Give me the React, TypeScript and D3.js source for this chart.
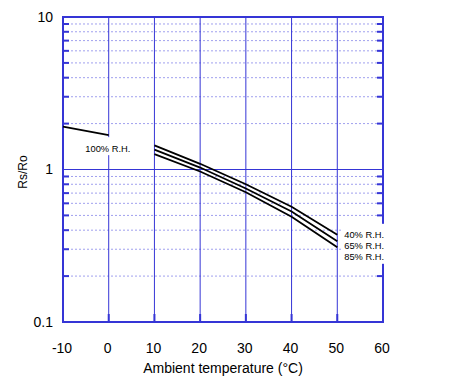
import * as d3 from "d3";
import * as React from "react";

// values
const xTicks = [-10, 0, 10, 20, 30, 40, 50, 60];
const yMajor = [0.1, 1, 10];
const yMajorLabels = ["0.1", "1", "10"];
const yMinor = [0.2, 0.3, 0.4, 0.5, 0.6, 0.7, 0.8, 0.9, 2, 3, 4, 5, 6, 7, 8, 9];

const temps100 = [-10, 0];
const rh100 = [1.91, 1.68];

const temps = [10, 20, 30, 40, 50];
const rh40 = [1.44, 1.09, 0.8, 0.57, 0.373];
const rh65 = [1.35, 1.03, 0.75, 0.53, 0.339];
const rh85 = [1.26, 0.97, 0.71, 0.49, 0.309];

const seriesLabels = ["40% R.H.", "65% R.H.", "85% R.H."];

const width = 456;
const height = 387;
const margin = { top: 17, right: 73, bottom: 65, left: 63 };
const blue = "#3535d6";
const font = "Arial, 'Liberation Sans', sans-serif";

export default function App() {
  const x = d3
    .scaleLinear()
    .domain([-10, 60])
    .range([margin.left, width - margin.right]);
  const y = d3
    .scaleLog()
    .domain([0.1, 10])
    .range([height - margin.bottom, margin.top]);

  const line = d3
    .line<[number, number]>()
    .x(d => x(d[0]))
    .y(d => y(d[1]));

  const curves = [
    temps100.map((t, i) => [t, rh100[i]] as [number, number]),
    temps.map((t, i) => [t, rh40[i]] as [number, number]),
    temps.map((t, i) => [t, rh65[i]] as [number, number]),
    temps.map((t, i) => [t, rh85[i]] as [number, number]),
  ];

  const x0 = x(-10), x1 = x(60), yTop = y(10), yBot = y(0.1);
  const lab100 = { x: x(-5) - 0.5, y: y(rh100[1]) + 17 };
  const labR = { x: x(50) + 7, y: y(rh40[4]) + 3 };

  return (
    <svg
      width={width}
      height={height}
      style={{ position: "absolute", left: 0, top: 0, background: "#fff" }}
      fontFamily={font}
    >
      {/* dotted minor grid */}
      {yMinor.map(v => (
        <line key={"g" + v} x1={x0} x2={x1} y1={y(v)} y2={y(v)}
          stroke="#a0a0ee" strokeWidth={1} strokeDasharray="2,2" />
      ))}
      {/* vertical grid */}
      {xTicks.map(t => (
        <line key={"v" + t} x1={x(t)} x2={x(t)} y1={yTop} y2={yBot}
          stroke={blue} strokeWidth={1} />
      ))}
      {/* horizontal major grid */}
      {yMajor.map(v => (
        <line key={"h" + v} x1={x0} x2={x1} y1={y(v)} y2={y(v)}
          stroke={blue} strokeWidth={1} />
      ))}
      {/* minor ticks left and right */}
      {yMinor.map(v => (
        <g key={"t" + v}>
          <line x1={x0} x2={x0 + 6} y1={y(v)} y2={y(v)} stroke={blue} strokeWidth={2} />
          <line x1={x1 - 6} x2={x1} y1={y(v)} y2={y(v)} stroke={blue} strokeWidth={2} />
        </g>
      ))}
      {/* major x ticks at bottom */}
      {xTicks.map(t => (
        <line key={"xt" + t} x1={x(t)} x2={x(t)} y1={yBot} y2={yBot - 8}
          stroke={blue} strokeWidth={2} />
      ))}
      {/* frame */}
      <rect x={x0} y={yTop} width={x1 - x0} height={yBot - yTop}
        fill="none" stroke={blue} strokeWidth={2} />

      {/* curves */}
      {curves.map((c, i) => (
        <path key={"c" + i} d={line(c) || ""} fill="none" stroke="#000" strokeWidth={1.8} />
      ))}

      {/* curve labels, white boxes break the grid like the original */}
      <rect x={lab100.x - 1} y={lab100.y - 15} width={47} height={18} fill="#fff" />
      <text x={lab100.x} y={lab100.y} fontSize={9.3} fill="#000">100% R.H.</text>
      <rect x={labR.x - 2} y={labR.y - 14} width={48} height={40} fill="#fff" />
      {seriesLabels.map((s, i) => (
        <text key={s} x={labR.x} y={labR.y + i * 11} fontSize={9.3} fill="#000">{s}</text>
      ))}

      {/* y tick labels */}
      {yMajor.map((v, i) => (
        <text key={"yl" + v} x={x0 - 10} y={y(v)} dy="0.35em" textAnchor="end" fontSize={14} fill="#000">
          {yMajorLabels[i]}
        </text>
      ))}
      {/* x tick labels */}
      {xTicks.map(t => (
        <text key={"xl" + t} x={x(t) - 1} y={yBot + 26} dy="0.35em" textAnchor="middle" fontSize={14} fill="#000">
          {t}
        </text>
      ))}

      {/* axis titles */}
      <text x={223} y={373} textAnchor="middle" fontSize={14} fill="#000">
        Ambient temperature (°C)
      </text>
      <text transform={`translate(27,${172}) rotate(-90)`} textAnchor="middle" fontSize={12} fill="#000">
        Rs/Ro
      </text>
    </svg>
  );
}
